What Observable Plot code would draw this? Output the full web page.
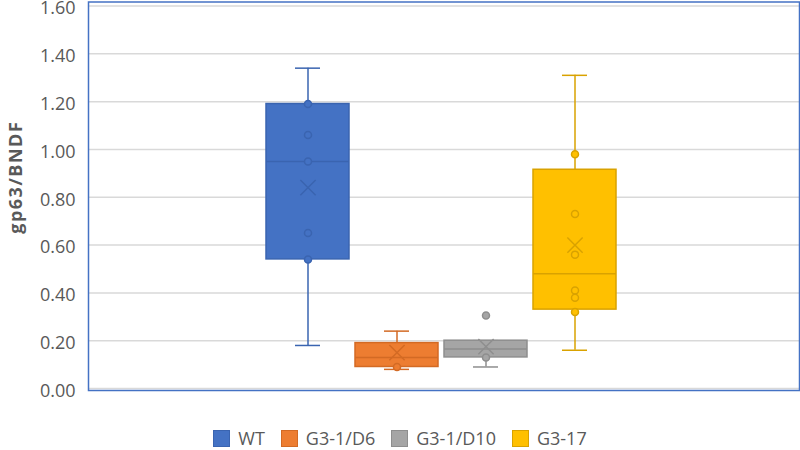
<!DOCTYPE html>
<html><head><meta charset="utf-8">
<script src="https://cdn.jsdelivr.net/npm/d3@7"></script>
<script src="https://cdn.jsdelivr.net/npm/@observablehq/plot@0.6"></script>
<style>
body{margin:0;background:#fff;font-family:"Open Sans",sans-serif;}
#wrap{position:relative;width:800px;height:450px;overflow:hidden;}
#legend{position:absolute;left:0;top:428px;width:800px;height:20px;display:flex;justify-content:center;align-items:center;font-size:18px;color:#595959;font-family:"Open Sans",sans-serif;}
.item{display:flex;align-items:center;margin:0 8px;white-space:nowrap;}
.sw{width:17px;height:17px;box-sizing:border-box;margin-right:8px;border:1px solid;}
</style></head><body>
<div id="wrap"><div id="chart"></div><div id="legend"></div></div>
<script>
// ---- data ----
const series = ["WT", "G3-1/D6", "G3-1/D10", "G3-17"];
const whiskerLow = [0.18, 0.08, 0.09, 0.16];
const q1 = [0.54, 0.09, 0.13, 0.33];
const median = [0.95, 0.13, 0.165, 0.48];
const q3 = [1.19, 0.19, 0.20, 0.915];
const whiskerHigh = [1.34, 0.24, 0.20, 1.31];
const mean = [0.84, 0.15, 0.175, 0.60];
const wtPoints = [1.19, 1.06, 0.95, 0.65, 0.54];
const d6Points = [0.09];
const d10Points = [0.13];
const g17Points = [0.98, 0.73, 0.56, 0.41, 0.38, 0.32];
const outlierSeries = ["G3-1/D10"];
const outlierValues = [0.305];
const yTicks = [0, 0.2, 0.4, 0.6, 0.8, 1.0, 1.2, 1.4, 1.6];
const yTitle = "gp63/BNDF";
// ---- styles ----
const fills = ["#4472C4", "#ED7D31", "#A5A5A5", "#FFC000"];
const strokes = ["#3A64B0", "#D36A24", "#8E8E8E", "#D9A200"];

const boxes = series.map((s, i) => ({series: s, low: whiskerLow[i], q1: q1[i], median: median[i], q3: q3[i], high: whiskerHigh[i], mean: mean[i], fill: fills[i], stroke: strokes[i]}));
const pointLists = [wtPoints, d6Points, d10Points, g17Points];
const points = pointLists.flatMap((arr, i) => arr.map(v => ({series: series[i], value: v, fill: fills[i], stroke: strokes[i]})));
const outliers = outlierSeries.map((s, j) => {const i = series.indexOf(s); return {series: s, value: outlierValues[j], fill: fills[i], stroke: strokes[i]};});

const W = 800, H = 420;
const chart = Plot.plot({
  width: W, height: H,
  marginLeft: 88, marginRight: 1, marginTop: 1.5, marginBottom: 30,
  style: {fontFamily: "'Open Sans', sans-serif", fontSize: "18px", color: "#595959", background: "#fff", overflow: "visible"},
  x: {domain: series, range: [265, 616], paddingInner: 0.07, paddingOuter: 0, axis: null},
  y: {domain: [0, 1.6], range: [388, 5.5], axis: null},
  marks: [
    Plot.gridY(yTicks, {stroke: "#d9d9d9", strokeOpacity: 1, strokeWidth: 1.5}),
    Plot.frame({stroke: "#4472C4", strokeWidth: 1.5}),
    Plot.axisY(yTicks, {tickSize: 0, tickPadding: 13, dy: 2.5, tickFormat: d3.format(".2f"), fontSize: 18, fill: "#595959", label: null}),
    Plot.text([yTitle], {frameAnchor: "left", dx: -72, dy: -19, rotate: -90, text: d => d, textAnchor: "middle", fontWeight: "bold", fontSize: 18, fill: "#595959"}),
    Plot.ruleX(boxes, {x: "series", y1: "low", y2: "q1", stroke: "stroke", strokeWidth: 1.5}),
    Plot.ruleX(boxes, {x: "series", y1: "q3", y2: "high", stroke: "stroke", strokeWidth: 1.5}),
    Plot.tickY(boxes, {x: "series", y: "low", stroke: "stroke", strokeWidth: 1.5, insetLeft: 29, insetRight: 29}),
    Plot.tickY(boxes, {x: "series", y: "high", stroke: "stroke", strokeWidth: 1.5, insetLeft: 29, insetRight: 29}),
    Plot.barY(boxes, {x: "series", y1: "q1", y2: "q3", fill: "fill", stroke: "stroke", strokeWidth: 1.5}),
    Plot.tickY(boxes, {x: "series", y: "median", stroke: "stroke", strokeWidth: 1.5}),
    Plot.dot(points, {x: "series", y: "value", r: 3.5, fill: "fill", stroke: "stroke", strokeWidth: 1.5}),
    Plot.dot(outliers, {x: "series", y: "value", r: 3.5, fill: "fill", stroke: "stroke", strokeWidth: 1.5}),
    Plot.dot(boxes, {x: "series", y: "mean", r: 7, symbol: "times", fill: "none", stroke: "stroke", strokeWidth: 1.5})
  ]
});
document.getElementById("chart").appendChild(chart);
chart.querySelectorAll("text").forEach(t => { if (t.textContent === yTitle) t.style.letterSpacing = "1.5px"; });

const legend = document.getElementById("legend");
series.forEach((s, i) => {
  const item = document.createElement("div");
  item.className = "item";
  const sw = document.createElement("div");
  sw.className = "sw";
  sw.style.background = fills[i];
  sw.style.borderColor = strokes[i];
  const lab = document.createElement("span");
  lab.textContent = s;
  item.appendChild(sw); item.appendChild(lab);
  legend.appendChild(item);
});
</script>
</body></html>
